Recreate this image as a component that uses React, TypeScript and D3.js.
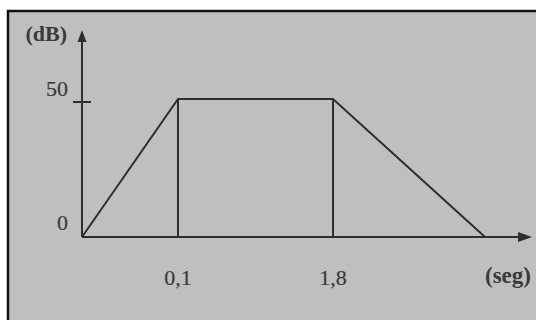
import React from "react";
import * as d3 from "d3";

// Sound level envelope: rise, sustain, decay
const times = [0, 0.1, 1.8, 3.6];
const levels = [0, 50, 50, 0];
const xTickValues = [0.1, 1.8];
const xTickLabels = ["0,1", "1,8"];
const yTickValues = [0, 50];
const yTickLabels = ["0", "50"];
const xUnit = "(seg)";
const yUnit = "(dB)";

const W = 536;
const H = 320;
const ink = "#2e2e2e";
const textInk = "#3a3a3a";
const font = "'Liberation Serif', 'Times New Roman', serif";

export default function App() {
  // schematic (piecewise) time axis
  const x = d3
    .scaleLinear()
    .domain(times)
    .range([82, 178, 333, 485]);
  const y = d3.scaleLinear().domain([0, 50]).range([237, 99]);

  const pts: [number, number][] = times.map((t, i) => [x(t), y(levels[i])]);
  const envelope = d3.line()(pts) as string;

  const x0 = x(0);
  const y0 = y(0);
  const xAxisEnd = 532;
  const yAxisTop = 30;

  return (
    <svg
      width={W}
      height={H}
      style={{ position: "fixed", left: 0, top: 0, display: "block" }}
    >
      <rect x={0} y={0} width={W} height={H} fill="#ffffff" />
      <rect x={8} y={11} width={W - 8} height={H - 11} fill="#bfbfbf" />
      <path d={`M8,${H} V11 H${W}`} fill="none" stroke="#111" strokeWidth={2.5} />

      {/* axes */}
      <line x1={x0} y1={y0} x2={xAxisEnd - 12} y2={y0} stroke={ink} strokeWidth={2} />
      <path
        d={`M${xAxisEnd},${y0} L${xAxisEnd - 14},${y0 - 5} L${xAxisEnd - 14},${y0 + 5} Z`}
        fill={ink}
      />
      <line x1={x0} y1={y0} x2={x0} y2={yAxisTop + 10} stroke={ink} strokeWidth={2} />
      <path
        d={`M${x0},${yAxisTop} L${x0 - 4.5},${yAxisTop + 12} L${x0 + 4.5},${yAxisTop + 12} Z`}
        fill={ink}
      />

      {/* tick mark at the top level */}
      <line x1={x0 - 9} y1={y(50) + 3} x2={x0 + 9} y2={y(50) + 3} stroke={ink} strokeWidth={2} />

      {/* envelope */}
      <path d={envelope} fill="none" stroke={ink} strokeWidth={2} strokeLinejoin="miter" />
      {xTickValues.map((t) => (
        <line
          key={t}
          x1={x(t)}
          y1={y(levels[times.indexOf(t)])}
          x2={x(t)}
          y2={y0}
          stroke={ink}
          strokeWidth={2}
        />
      ))}

      {/* labels */}
      <g
        fontFamily={font}
        fontSize={22}
        fill={textInk}
        stroke={textInk}
        strokeWidth={0.2}
      >
        {xTickValues.map((t, i) => (
          <text key={t} x={x(t)} y={285} textAnchor="middle">
            {xTickLabels[i]}
          </text>
        ))}
        {yTickValues.map((v, i) => (
          <text key={v} x={68} y={v === 0 ? 230 : 96} textAnchor="end">
            {yTickLabels[i]}
          </text>
        ))}
        <text x={67} y={41} textAnchor="end" fontWeight="bold" strokeWidth={0}>
          {yUnit}
        </text>
        <text x={485} y={283} fontWeight="bold" fontSize={23} strokeWidth={0}>
          {xUnit}
        </text>
      </g>
    </svg>
  );
}
